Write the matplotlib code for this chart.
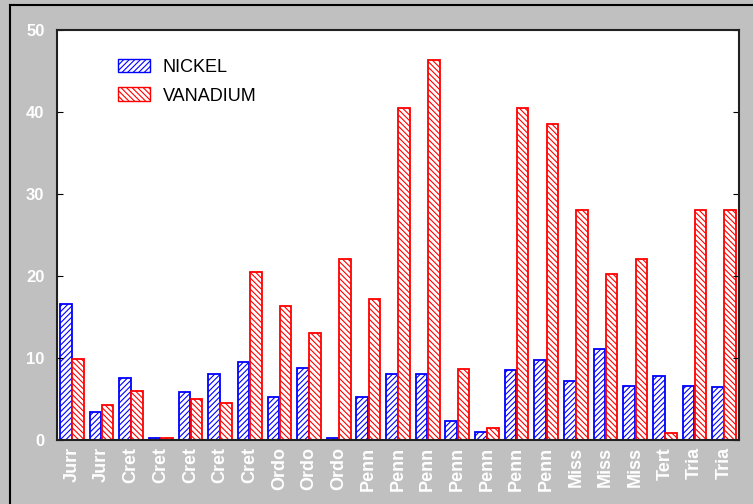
import numpy as np
import matplotlib.pyplot as plt
from matplotlib.lines import Line2D
from matplotlib.patches import Patch

plt.rcParams['font.family'] = ['Liberation Sans', 'DejaVu Sans']
plt.rcParams['hatch.linewidth'] = 0.8

periods = ["Jurr", "Jurr", "Cret", "Cret", "Cret", "Cret", "Cret", "Ordo", "Ordo",
           "Ordo", "Penn", "Penn", "Penn", "Penn", "Penn", "Penn", "Penn", "Miss",
           "Miss", "Miss", "Tert", "Tria", "Tria"]
nickel = [16.6, 3.4, 7.6, 0.2, 5.8, 8.1, 9.5, 5.3, 8.8, 0.2, 5.2, 8.1, 8.1,
          2.3, 1.0, 8.5, 9.7, 7.2, 11.1, 6.6, 7.8, 6.6, 6.5]
vanadium = [9.9, 4.3, 6.0, 0.2, 5.0, 4.5, 20.5, 16.4, 13.1, 22.1, 17.2, 40.5, 46.3,
            8.6, 1.5, 40.5, 38.5, 28.1, 20.2, 22.1, 0.8, 28.0, 28.1]

BG = "#c0c0c0"
fig = plt.figure(figsize=(7.53, 5.04), dpi=100, facecolor=BG)
ax = fig.add_axes([57 / 753, 1 - 440 / 504, 682 / 753, 410 / 504])

x = np.arange(len(periods))
w = 0.39
ax.bar(x - w / 2 - 0.01, nickel, w, color="white", edgecolor="blue",
       hatch="//////", linewidth=1.3, label="NICKEL")
ax.bar(x + w / 2 + 0.01, vanadium, w, color="white", edgecolor="red",
       hatch="\\\\\\\\\\\\", linewidth=1.3, label="VANADIUM")

ax.set_xlim(-0.5, len(periods) - 0.5)
ax.set_ylim(0, 50)
ax.set_yticks(range(0, 51, 10))
ax.set_xticks(x)
ax.set_xticklabels(periods, rotation=90, color="white", fontsize=13, fontweight="bold")
ax.tick_params(axis="y", direction="in", length=4, right=True, labelcolor="white",
               labelsize=12, pad=9)
for t in ax.get_yticklabels():
    t.set_fontweight("bold")
ax.tick_params(axis="x", length=0, pad=5)
for s in ax.spines.values():
    s.set_linewidth(1.5)
    s.set_color("#202020")

handles = [Patch(facecolor="white", edgecolor="blue", hatch="//////", label="NICKEL"),
           Patch(facecolor="white", edgecolor="red", hatch="\\\\\\\\\\\\", label="VANADIUM")]
ax.legend(handles=handles, loc="upper left", bbox_to_anchor=(0.066, 0.97),
          frameon=False, fontsize=13, handlelength=1.75, handleheight=0.8,
          handletextpad=0.7, labelspacing=0.65)

# outer frame lines (top and left)
fig.add_artist(Line2D([10 / 753, 10 / 753], [0, 1 - 5 / 504], color="black", lw=1.5))
fig.add_artist(Line2D([10 / 753, 1], [1 - 5 / 504, 1 - 5 / 504], color="black", lw=1.5))

fig.savefig("out.png", dpi=100, facecolor=BG)
